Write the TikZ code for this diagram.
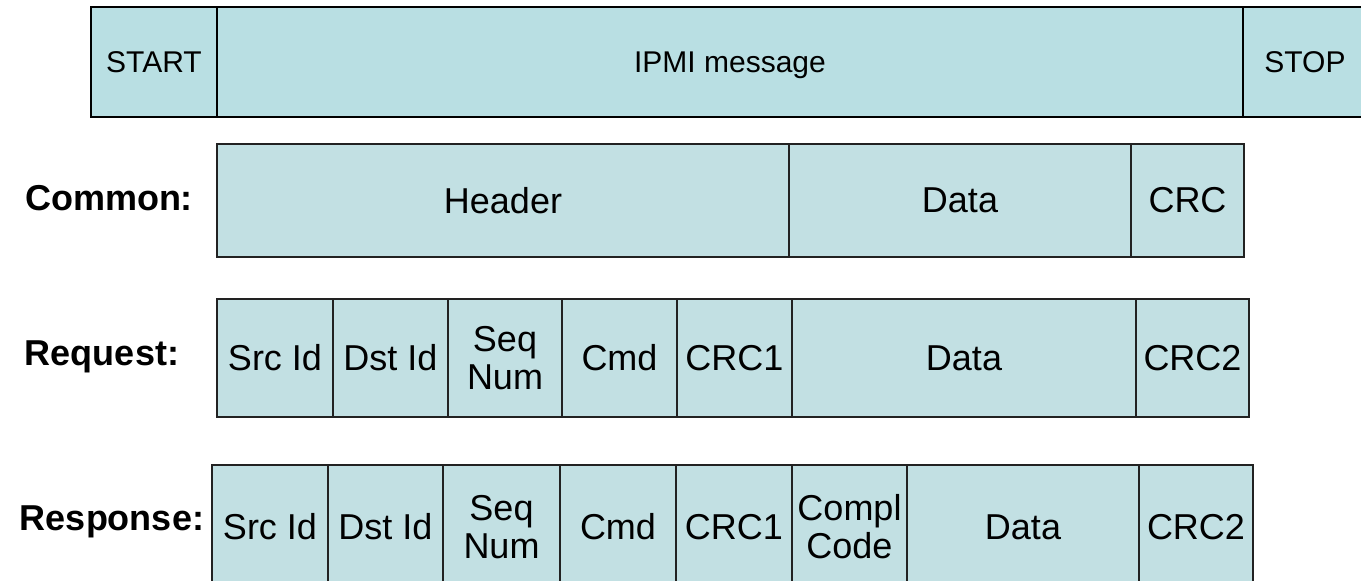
\documentclass[tikz,border=0pt]{standalone}
\usepackage{fontspec}
\setmainfont{Liberation Sans}
\definecolor{frameblue}{HTML}{B9DFE3}
\definecolor{fieldblue}{HTML}{C2E0E3}
\definecolor{fieldline}{HTML}{222222}
% one field of a frame: name, left, right, top, bottom, text, style
\newcommand\fld[7]{%
  \node[#7, minimum width={#3-#2}, minimum height={#5-#4}] (#1)
    at ({(#2+#3)/2},{(#4+#5)/2}) {#6};}
\begin{document}
\begin{tikzpicture}[x=1pt,y=-1pt,
  framecell/.style={draw=black, line width=1.6pt, fill=frameblue, inner sep=0pt,
    font=\fontsize{30}{32}\selectfont, text depth=0pt},
  cell/.style={draw=fieldline, line width=1.6pt, fill=fieldblue, inner sep=0pt,
    align=center, font=\fontsize{36}{38}\selectfont},
  rowlabel/.style={font=\fontsize{36}{38}\selectfont\bfseries, inner sep=0pt}]
\useasboundingbox (0,0) rectangle (1361,581);
\clip (0,0) rectangle (1361,581);

% serial frame
\fld{start}{91}{217}{7}{117}{START}{framecell}
\fld{msg}{217}{1243}{7}{117}{IPMI message}{framecell}
\fld{stop}{1243}{1367}{7}{117}{STOP}{framecell}

% common layout
\node[rowlabel] (lcommon) at (109,198) {Common:};
\fld{chdr}{217}{789}{144}{257}{Header}{cell}
\fld{cdata}{789}{1131}{144}{257}{Data}{cell}
\fld{ccrc}{1131}{1244}{144}{257}{CRC}{cell}

% request layout
\node[rowlabel] (lreq) at (102,357) {Request:};
\fld{qsrc}{217}{333}{299}{417}{Src Id}{cell}
\fld{qdst}{333}{448}{299}{417}{Dst Id}{cell}
\fld{qseq}{448}{562}{299}{417}{Seq\\Num}{cell}
\fld{qcmd}{562}{677}{299}{417}{Cmd}{cell}
\fld{qcrc1}{677}{792}{299}{417}{CRC1}{cell}
\fld{qdata}{792}{1136}{299}{417}{Data}{cell}
\fld{qcrc2}{1136}{1249}{299}{417}{CRC2}{cell}

% response layout
\node[rowlabel] (lresp) at (112,522) {Response:};
\fld{rsrc}{212}{328}{465}{589}{Src Id}{cell}
\fld{rdst}{328}{443}{465}{589}{Dst Id}{cell}
\fld{rseq}{443}{560}{465}{589}{Seq\\Num}{cell}
\fld{rcmd}{560}{676}{465}{589}{Cmd}{cell}
\fld{rcrc1}{676}{792}{465}{589}{CRC1}{cell}
\fld{rcc}{792}{907}{465}{589}{Compl\\Code}{cell}
\fld{rdata}{907}{1139}{465}{589}{Data}{cell}
\fld{rcrc2}{1139}{1253}{465}{589}{CRC2}{cell}
\end{tikzpicture}
\end{document}
